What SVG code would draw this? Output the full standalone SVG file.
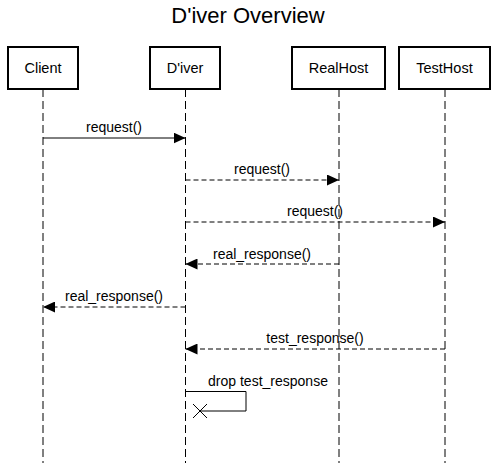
<svg xmlns="http://www.w3.org/2000/svg" width="497" height="463" viewBox="0 0 497 463">
<style>
text{font-family:"Liberation Sans",Arial,sans-serif;fill:#000}
.title{font-size:22px;text-anchor:middle}
.box{fill:#fff;stroke:#000;stroke-width:2}
.nl{font-size:14.5px;text-anchor:middle}
.life{stroke:#000;stroke-width:1;stroke-dasharray:8,4;fill:none}
.msg{stroke:#000;stroke-width:1;fill:none}
.dash{stroke-dasharray:5,3}
.ml{font-size:14px;text-anchor:middle}
</style>
<defs>
<marker id="ah" markerWidth="12" markerHeight="11" refX="12" refY="5.5" orient="auto" markerUnits="userSpaceOnUse">
<path d="M0,0 L12,5.5 L0,11 Z" fill="#000"/>
</marker>
</defs>
<rect width="497" height="463" fill="#fff"/>
<text class="title" x="248" y="23">D'iver Overview</text>
<g id="lifelines">
<line class="life" x1="43" y1="89" x2="43" y2="463"/>
<line class="life" x1="185.5" y1="89" x2="185.5" y2="463"/>
<line class="life" x1="339" y1="89" x2="339" y2="463"/>
<line class="life" x1="445" y1="89" x2="445" y2="463"/>
</g>
<g id="client"><rect class="box" x="8" y="47" width="70" height="42"/><text class="nl" x="43" y="73">Client</text></g>
<g id="diver"><rect class="box" x="150" y="47" width="70" height="42"/><text class="nl" x="185" y="73">D'iver</text></g>
<g id="realhost"><rect class="box" x="292" y="47" width="93" height="42"/><text class="nl" x="338.5" y="73">RealHost</text></g>
<g id="testhost"><rect class="box" x="399" y="47" width="91" height="42"/><text class="nl" x="444.5" y="73">TestHost</text></g>
<g id="connectors">
<line class="msg" x1="43" y1="138" x2="185.5" y2="138" marker-end="url(#ah)"/>
<text class="ml" x="114" y="132">request()</text>
<line class="msg dash" x1="185.5" y1="180" x2="339" y2="180" marker-end="url(#ah)"/>
<text class="ml" x="262" y="174">request()</text>
<line class="msg dash" x1="185.5" y1="222" x2="445" y2="222" marker-end="url(#ah)"/>
<text class="ml" x="315" y="216">request()</text>
<line class="msg dash" x1="339" y1="264" x2="185.5" y2="264" marker-end="url(#ah)"/>
<text class="ml" x="262" y="259">real_response()</text>
<line class="msg dash" x1="185.5" y1="307" x2="43" y2="307" marker-end="url(#ah)"/>
<text class="ml" x="114" y="301">real_response()</text>
<line class="msg dash" x1="445" y1="349" x2="185.5" y2="349" marker-end="url(#ah)"/>
<text class="ml" x="315" y="343">test_response()</text>
<path class="msg" d="M185.5,391.5 H246 V411 H200"/>
<path class="msg" d="M193,404 L207,418 M193,418 L207,404"/>
<text class="ml" x="268" y="386">drop test_response</text>
</g>
</svg>
